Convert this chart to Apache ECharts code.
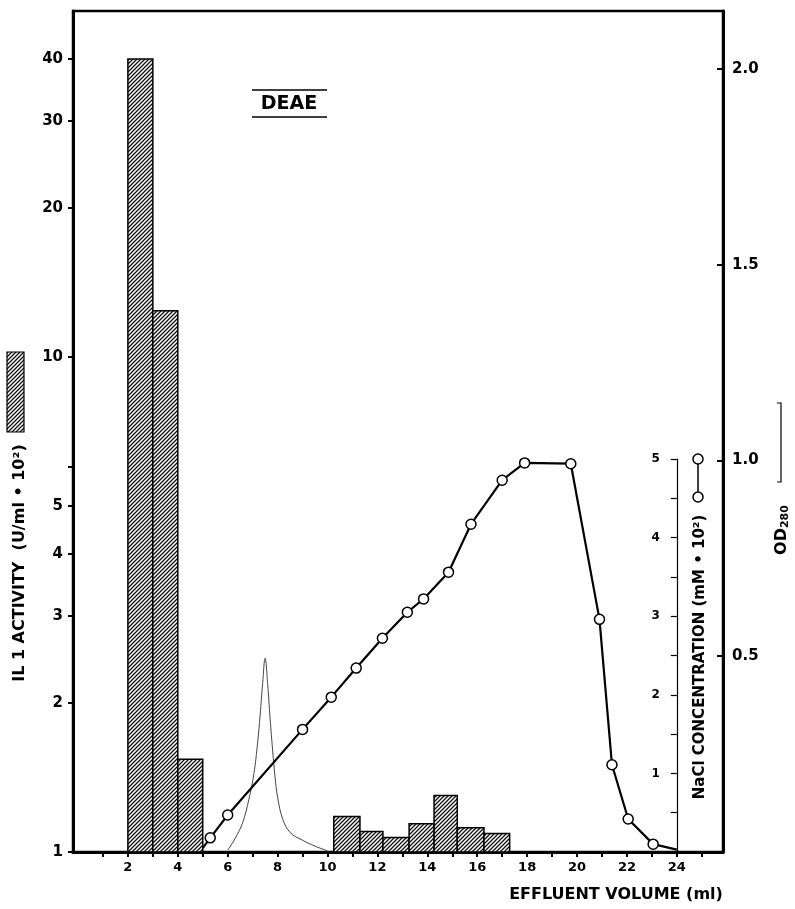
<!DOCTYPE html>
<html>
<head>
<meta charset="utf-8">
<title>DEAE</title>
<script src="https://cdn.jsdelivr.net/npm/echarts@6/dist/echarts.min.js"></script>
<style>
  html, body { margin: 0; padding: 0; background: #fff; }
  #chart { width: 795px; height: 909px; }
</style>
</head>
<body>
<div id="chart"></div>
<script>
// IL1 activity per fraction (U/ml x 10^2), fraction edges in ml
var binStart = [2.0, 3.0, 4.0, 10.25, 11.3, 12.22, 13.27, 14.27, 15.2, 16.27];
var binEnd = [3.0, 4.0, 5.0, 11.3, 12.22, 13.27, 14.27, 15.2, 16.27, 17.3];
var il1Activity = [40, 12.4, 1.54, 1.18, 1.1, 1.07, 1.14, 1.3, 1.12, 1.09];

// NaCl concentration (mM x 10^2)
var naclVolume = [5.0, 5.3, 6.0, 9.0, 10.15, 11.15, 12.2, 13.2, 13.85, 14.85, 15.75, 17.0, 17.9, 19.75, 20.9, 21.4, 22.05, 23.05, 24.0];
var naclConc = [0.05, 0.18, 0.47, 1.56, 1.97, 2.34, 2.72, 3.05, 3.22, 3.56, 4.17, 4.73, 4.95, 4.94, 2.96, 1.11, 0.42, 0.1, 0.03];

// OD280 trace
var odVolume = [6.0, 6.3, 6.6, 6.85, 7.05, 7.2, 7.3, 7.4, 7.5, 7.6, 7.7, 7.8, 7.9, 8.0, 8.2, 8.5, 9.0, 9.5, 10.0];
var odValue = [0.005, 0.035, 0.075, 0.135, 0.2, 0.28, 0.35, 0.43, 0.495, 0.43, 0.34, 0.26, 0.19, 0.14, 0.085, 0.05, 0.03, 0.015, 0.003];

// axis ticks / labels
var xTicks = [1, 2, 3, 4, 5, 6, 7, 8, 9, 10, 11, 12, 13, 14, 15, 16, 17, 18, 19, 20, 21, 22, 23, 24, 25];
var xLabels = [2, 4, 6, 8, 10, 12, 14, 16, 18, 20, 22, 24];
var il1Ticks = [1, 2, 3, 4, 5, 6, 10, 20, 30, 40];
var il1Labels = [1, 2, 3, 4, 5, 10, 20, 30, 40];
var odTicks = [0.5, 1.0, 1.5, 2.0];

var FONT = "'DejaVu Sans', 'Liberation Sans', sans-serif";

// diagonal hatch for the bars
function makeHatch() {
  var n = 4;
  var c = document.createElement('canvas');
  c.width = n;
  c.height = n;
  var g = c.getContext('2d');
  g.fillStyle = '#fff';
  g.fillRect(0, 0, n, n);
  g.strokeStyle = '#111';
  g.lineWidth = 1.3;
  g.beginPath();
  g.moveTo(0, n); g.lineTo(n, 0);
  g.moveTo(-1, 1); g.lineTo(1, -1);
  g.moveTo(n - 1, n + 1); g.lineTo(n + 1, n - 1);
  g.stroke();
  return c;
}
var hatch = { image: makeHatch(), repeat: 'repeat' };

var barData = binStart.map(function (s, i) { return [s, binEnd[i], il1Activity[i]]; });
var naclData = naclVolume.map(function (v, i) {
  var item = { value: [v, naclConc[i]] };
  if (i === 0 || i === naclVolume.length - 1) item.symbol = 'none';
  return item;
});
var odData = odVolume.map(function (v, i) { return [v, odValue[i]]; });

// main grid spans -0.2..25.85 ml over 650 px; the NaCl grid stops at 24 ml
var X_MIN = -0.2, X_MAX = 25.85;
var pxPerMl = 650 / (X_MAX - X_MIN);
var naclRight = 795 - (73 + (24 - X_MIN) * pxPerMl);

var chart = echarts.init(document.getElementById('chart'));

chart.setOption({
  animation: false,
  backgroundColor: '#fff',
  grid: [
    { left: 73, right: 72, top: 11, bottom: 57, show: true, borderColor: '#000', borderWidth: 2.5 },
    { left: 73, right: naclRight, top: 459, bottom: 57 }
  ],
  xAxis: [
    {
      gridIndex: 0, type: 'value', min: X_MIN, max: X_MAX,
      axisLine: { onZero: false, lineStyle: { color: '#000', width: 3 } },
      axisTick: { customValues: xTicks, length: 5, lineStyle: { color: '#000', width: 2 } },
      axisLabel: { customValues: xLabels, fontSize: 13, margin: 9, fontFamily: FONT, fontWeight: 'bold', color: '#000' },
      splitLine: { show: false }
    },
    { gridIndex: 1, type: 'value', min: X_MIN, max: 24, show: false, axisLine: { onZero: false } }
  ],
  yAxis: [
    {
      gridIndex: 0, type: 'log', logBase: 10, min: 1, max: 50, position: 'left',
      axisLine: { show: true, onZero: false, lineStyle: { color: '#000', width: 3 } },
      axisTick: { show: true, customValues: il1Ticks, length: 5, lineStyle: { color: '#000', width: 2 } },
      axisLabel: { customValues: il1Labels, fontSize: 15, margin: 10, fontFamily: FONT, fontWeight: 'bold', color: '#000' },
      splitLine: { show: false }
    },
    {
      gridIndex: 0, type: 'value', min: 0, max: 2.148, position: 'right',
      axisLine: { show: true, onZero: false, lineStyle: { color: '#000', width: 3 } },
      axisTick: { show: true, inside: true, customValues: odTicks, length: 6, lineStyle: { color: '#000', width: 2 } },
      axisLabel: {
        customValues: odTicks, fontSize: 15, margin: 9, fontFamily: FONT, fontWeight: 'bold', color: '#000',
        formatter: function (v) { return v.toFixed(1); }
      },
      splitLine: { show: false }
    },
    {
      gridIndex: 1, type: 'value', min: 0, max: 5, interval: 0.5, position: 'right',
      axisLine: { show: true, onZero: false, lineStyle: { color: '#000', width: 1.2 } },
      axisTick: { show: true, inside: true, length: 6, lineStyle: { color: '#000', width: 1.2 } },
      axisLabel: {
        inside: true, fontSize: 12, margin: 17, fontFamily: FONT, fontWeight: 'bold', color: '#000',
        formatter: function (v) { return (v > 0 && v % 1 === 0) ? String(v) : ''; }
      },
      splitLine: { show: false }
    }
  ],
  series: [
    {
      type: 'custom',
      name: 'IL1 activity',
      xAxisIndex: 0,
      yAxisIndex: 0,
      data: barData,
      encode: { x: [0, 1], y: 2 },
      renderItem: function (params, api) {
        var p0 = api.coord([api.value(0), api.value(2)]);
        var p1 = api.coord([api.value(1), 1]);
        return {
          type: 'rect',
          shape: { x: p0[0], y: p0[1], width: p1[0] - p0[0], height: p1[1] - p0[1] },
          style: { fill: hatch, stroke: '#000', lineWidth: 1.5 }
        };
      }
    },
    {
      type: 'line',
      name: 'OD280',
      xAxisIndex: 0,
      yAxisIndex: 1,
      data: odData,
      smooth: 0.4,
      symbol: 'none',
      lineStyle: { color: '#444', width: 1 }
    },
    {
      type: 'line',
      name: 'NaCl',
      xAxisIndex: 1,
      yAxisIndex: 2,
      data: naclData,
      clip: false,
      symbol: 'circle',
      symbolSize: 10,
      itemStyle: { color: '#fff', borderColor: '#000', borderWidth: 1.5 },
      lineStyle: { color: '#000', width: 2.2 },
      z: 5
    }
  ],
  graphic: [
    // left axis title + hatched key
    {
      type: 'text', x: 20, y: 563, rotation: Math.PI / 2,
      style: { text: 'IL 1 ACTIVITY  (U/ml \u2022 10\u00b2)', font: 'bold 16px ' + FONT, fill: '#000', align: 'center', verticalAlign: 'middle' }
    },
    {
      type: 'rect', shape: { x: 7, y: 352, width: 17, height: 80 },
      style: { fill: hatch, stroke: '#000', lineWidth: 1.2 }
    },
    // NaCl title + key
    {
      type: 'text', x: 700, y: 657, rotation: Math.PI / 2,
      style: { text: 'NaCl CONCENTRATION (mM \u2022 10\u00b2)', font: 'bold 15px ' + FONT, fill: '#000', align: 'center', verticalAlign: 'middle' }
    },
    { type: 'line', shape: { x1: 698, y1: 459, x2: 698, y2: 497 }, style: { stroke: '#000', lineWidth: 1.5 } },
    { type: 'circle', shape: { cx: 698, cy: 459, r: 5 }, style: { fill: '#fff', stroke: '#000', lineWidth: 1.5 } },
    { type: 'circle', shape: { cx: 698, cy: 497, r: 5 }, style: { fill: '#fff', stroke: '#000', lineWidth: 1.5 } },
    // OD280 title + bracket
    {
      type: 'text', x: 782, y: 530, rotation: Math.PI / 2,
      style: {
        text: 'OD{sub|280}', font: 'bold 16px ' + FONT, fill: '#000', align: 'center', verticalAlign: 'middle',
        rich: { sub: { fontSize: 11, fontWeight: 'bold', fontFamily: FONT, verticalAlign: 'bottom', padding: [7, 0, 0, 0] } }
      }
    },
    {
      type: 'polyline', shape: { points: [[777, 403], [781, 403], [781, 482], [777, 482]] },
      style: { stroke: '#000', lineWidth: 1.2, fill: null }
    },
    // DEAE label
    {
      type: 'text', x: 289, y: 104,
      style: { text: 'DEAE', font: 'bold 19px ' + FONT, fill: '#000', align: 'center', verticalAlign: 'middle' }
    },
    { type: 'line', shape: { x1: 252, y1: 90, x2: 327, y2: 90 }, style: { stroke: '#000', lineWidth: 1.5 } },
    { type: 'line', shape: { x1: 252, y1: 117, x2: 327, y2: 117 }, style: { stroke: '#000', lineWidth: 1.5 } },
    // x axis title
    {
      type: 'text', x: 616, y: 895,
      style: { text: 'EFFLUENT VOLUME (ml)', font: 'bold 16px ' + FONT, fill: '#000', align: 'center', verticalAlign: 'middle' }
    }
  ]
});
</script>
</body>
</html>
